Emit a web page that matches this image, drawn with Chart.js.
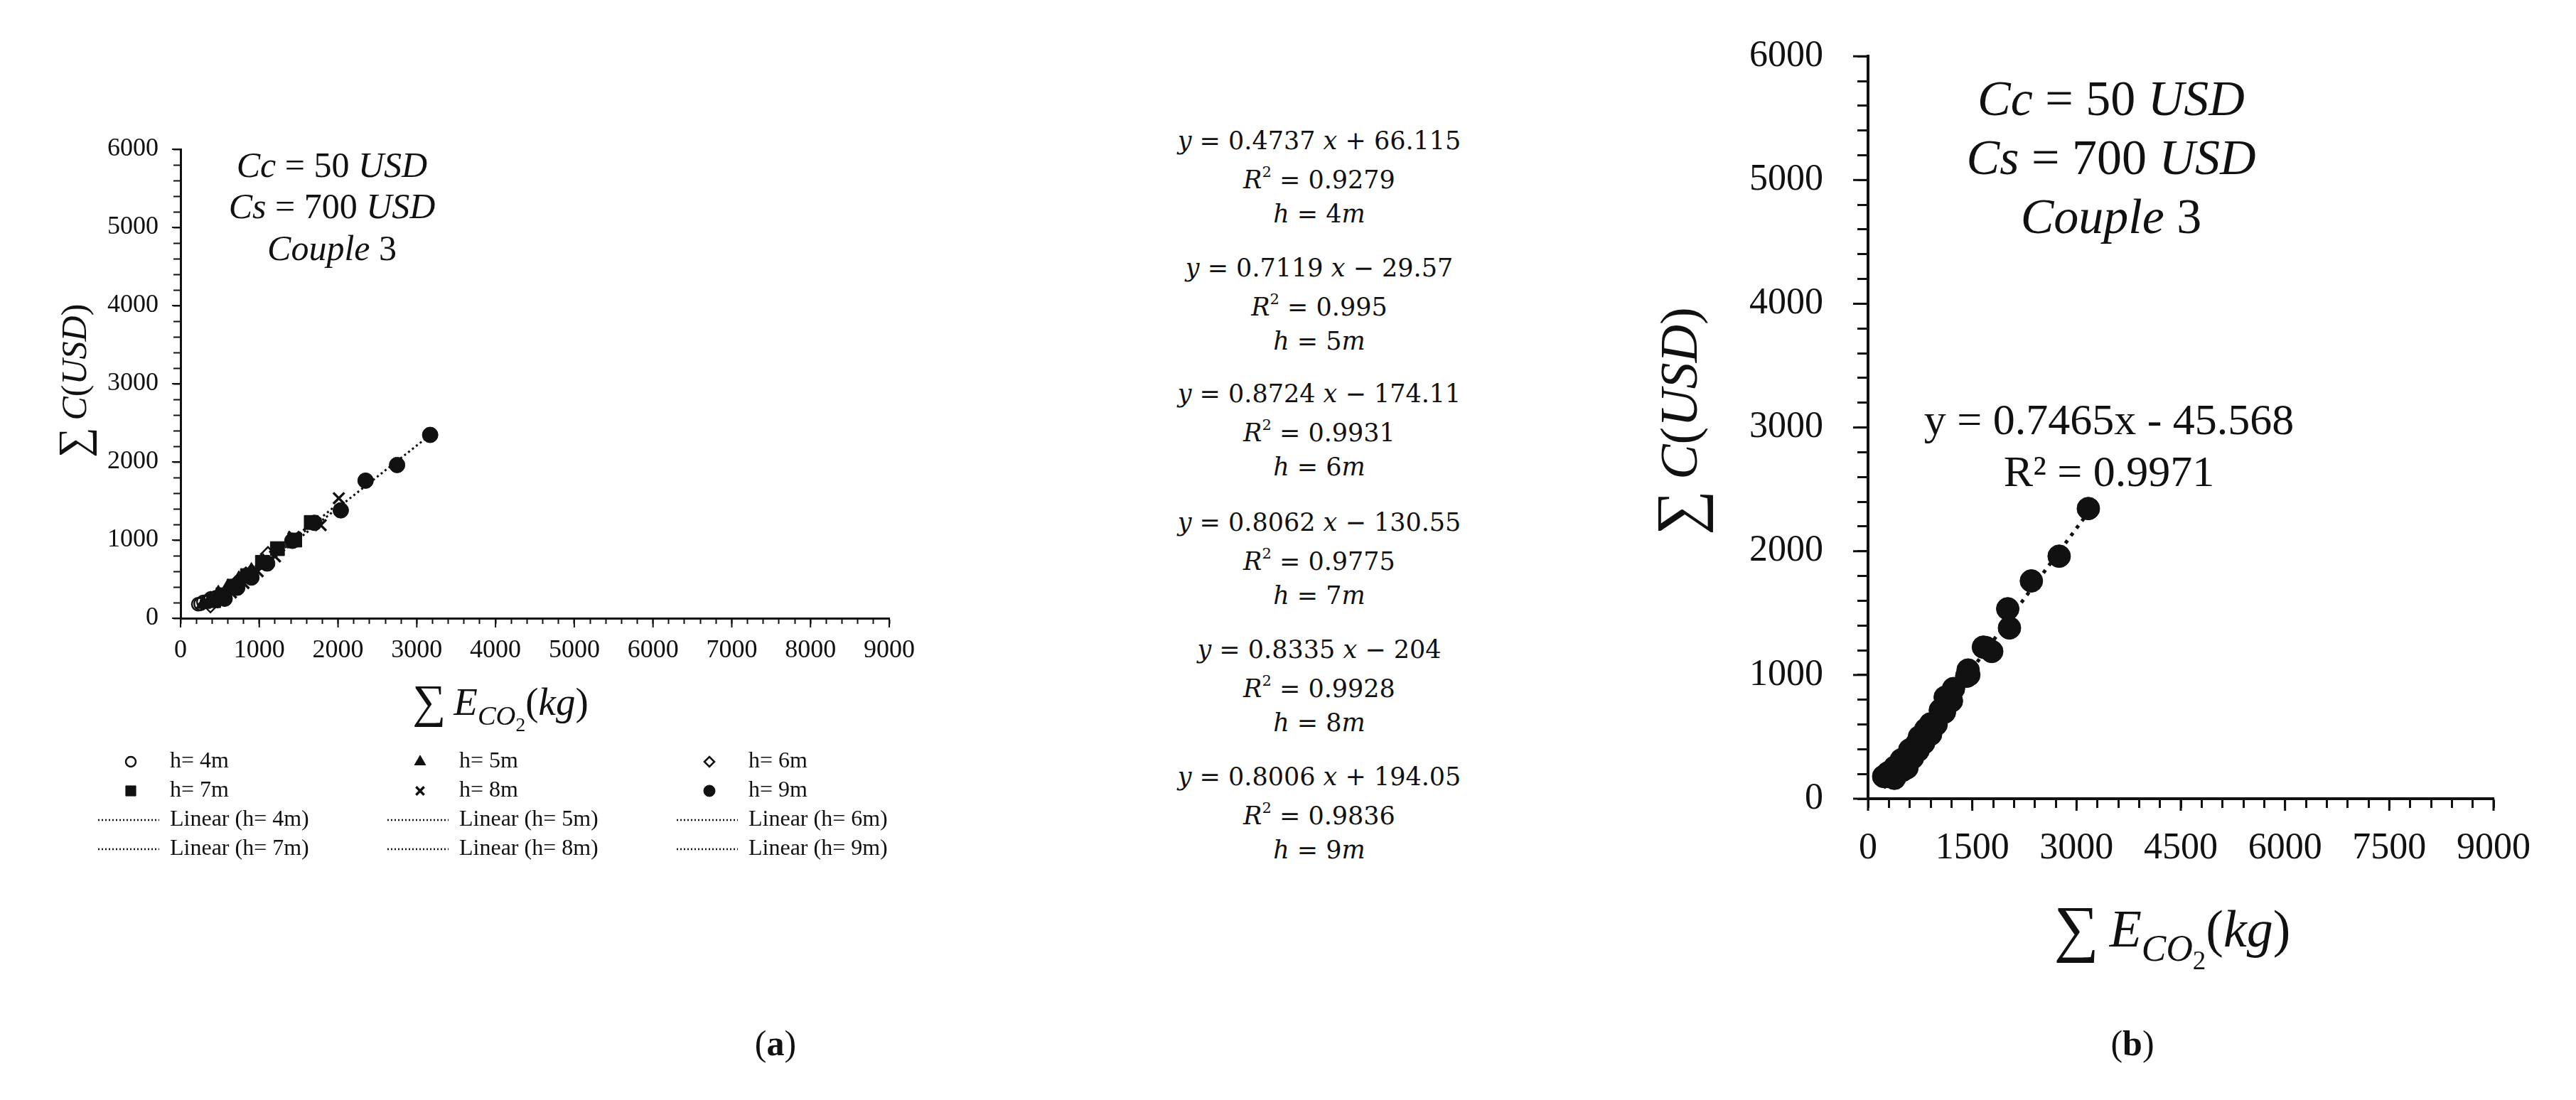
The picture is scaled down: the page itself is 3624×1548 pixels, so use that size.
<!DOCTYPE html>
<html>
<head>
<meta charset="utf-8">
<title>Cost vs CO2 emissions, couple 3</title>
<script src="https://cdn.jsdelivr.net/npm/chart.js@4.4.1/dist/chart.umd.min.js"></script>
<style>
  html, body { margin: 0; padding: 0; background: #fff; }
  body { position: relative; width: 3624px; height: 1548px; overflow: hidden; color: #111; font-family: 'Liberation Serif', serif; }
  canvas { position: absolute; }
  #chartA { left: 0; top: 0; }
  #chartB { left: 2300px; top: 0; }
  #eqs { position: absolute; left: 1556px; top: 0; width: 600px; font-family: 'DejaVu Serif', serif; font-size: 35px; text-align: center; }
  #eqs div { position: absolute; left: 0; width: 600px; line-height: 50px; white-space: nowrap; }
  #eqs sup { font-size: 0.6em; position: relative; top: -0.15em; vertical-align: super; line-height: 0; }
  .cap { position: absolute; top: 1438px; width: 200px; margin-left: -100px; text-align: center; font-size: 50px; line-height: 60px; }
</style>
</head>
<body>
<canvas id="chartA" width="1500" height="1300"></canvas>
<div id="eqs"></div>
<canvas id="chartB" width="1324" height="1400"></canvas>
<div class="cap" style="left:1091px">(<b>a</b>)</div>
<div class="cap" style="left:3000px">(<b>b</b>)</div>
<script>
// data: sum of CO2 emissions (kg) vs sum of cost (USD), per height
const heights = ['4', '5', '6', '7', '8', '9'];
const x4 = [225, 255, 290, 335, 385, 450];
const y4 = [180, 185, 210, 215, 255, 268];
const x5 = [290, 380, 480, 600, 740, 900, 1050];
const y5 = [180, 238, 315, 395, 500, 605, 720];
const x6 = [380, 470, 580, 700, 830, 900, 1110];
const y6 = [165, 230, 330, 445, 560, 590, 820];
const x7 = [420, 540, 680, 850, 1040, 1230, 1450, 1660];
const y7 = [225, 300, 410, 545, 715, 890, 1000, 1225];
const x8 = [500, 640, 800, 980, 1200, 1440, 1780, 2010];
const y8 = [230, 330, 450, 600, 790, 1040, 1190, 1535];
const x9 = [560, 720, 900, 1100, 1420, 1700, 2035, 2350, 2750, 3170];
const y9 = [250, 390, 520, 700, 990, 1220, 1380, 1760, 1960, 2345];

// trendline equations as printed next to panel (a)
const eqSlope = ['0.4737', '0.7119', '0.8724', '0.8062', '0.8335', '0.8006'];
const eqIntercept = ['+ 66.115', '\u2212 29.57', '\u2212 174.11', '\u2212 130.55', '\u2212 204', '+ 194.05'];
const eqR2 = ['0.9279', '0.995', '0.9931', '0.9775', '0.9928', '0.9836'];
const eqB = ['y = 0.7465x - 45.568', 'R\u00b2 = 0.9971'];

const xTicksA = { max: 9000, minor: 200, major: 1000 };
const yTicksA = { max: 6000, minor: 200, major: 1000 };
const xTicksB = { max: 9000, minor: 300, major: 1500 };
const yTicksB = { max: 6000, minor: 200, major: 1000 };

const serif = "'Liberation Serif', 'Times New Roman', serif";
const ink = '#111';

const xs = [x4, x5, x6, x7, x8, x9];
const ys = [y4, y5, y6, y7, y8, y9];

// marker look per height (excel-ish)
const markStyle = [
  { pointStyle: 'circle', fill: 'rgba(0,0,0,0)', r: 9, bw: 2.5, lr: 7 },
  { pointStyle: 'triangle', fill: ink, r: 12, bw: 1, lr: 9 },
  { pointStyle: 'rectRot', fill: 'rgba(0,0,0,0)', r: 10, bw: 2.5, lr: 7 },
  { pointStyle: 'rect', fill: ink, r: 14, bw: 1, lr: 10 },
  { pointStyle: 'crossRot', fill: ink, r: 11, bw: 3.5, lr: 8 },
  { pointStyle: 'circle', fill: ink, r: 11, bw: 1, lr: 8 }
];

function toPoints(xa, ya) {
  return xa.map((x, i) => ({ x: x, y: ya[i] }));
}

// least squares line, like the excel "Linear" trendline
function trendPoints(xa, ya) {
  const n = xa.length;
  const mx = xa.reduce((s, v) => s + v, 0) / n;
  const my = ya.reduce((s, v) => s + v, 0) / n;
  let sxy = 0, sxx = 0;
  xa.forEach((x, i) => { sxy += (x - mx) * (ya[i] - my); sxx += (x - mx) * (x - mx); });
  const k = sxy / sxx, b = my - k * mx;
  const lo = Math.min(...xa), hi = Math.max(...xa);
  return [{ x: lo, y: k * lo + b }, { x: hi, y: k * hi + b }];
}

function axisOpts(t, o) {
  return {
    type: 'linear', min: 0, max: t.max,
    border: { display: true, color: ink, width: o.axisWidth },
    grid: { drawOnChartArea: false, drawTicks: true, tickLength: o.tickLen, tickWidth: o.tickWidth, tickColor: ink },
    ticks: {
      stepSize: t.minor, maxTicksLimit: 200, autoSkip: false, maxRotation: 0, minRotation: 0,
      padding: o.pad, color: ink, font: { family: serif, size: o.font },
      callback: v => (v % t.major === 0 ? String(v) : '')
    },
    afterFit: s => { if (s.isHorizontal()) s.height = o.size; else s.width = o.size; }
  };
}

function fontStr(size, italic) {
  return (italic ? 'italic ' : '') + size + 'px ' + serif;
}

// runs: [text, italic, scale, shift] drawn centred on cx, cy
function drawRuns(ctx, runs, cx, cy, size) {
  ctx.save();
  ctx.textAlign = 'left';
  ctx.textBaseline = 'alphabetic';
  ctx.fillStyle = ink;
  let total = 0;
  const w = runs.map(r => {
    ctx.font = fontStr(size * (r[2] || 1), r[1]);
    const m = ctx.measureText(r[0]).width;
    total += m;
    return m;
  });
  let x = cx - total / 2;
  runs.forEach((r, i) => {
    ctx.font = fontStr(size * (r[2] || 1), r[1]);
    ctx.fillText(r[0], x, cy + size * 0.33 + (r[3] || 0) * size);
    x += w[i];
  });
  ctx.restore();
}

function majorTicks(chart, id, step, len, width) {
  const s = chart.scales[id], a = chart.chartArea, ctx = chart.ctx;
  ctx.save();
  ctx.strokeStyle = ink;
  ctx.lineWidth = width;
  for (let v = s.min; v <= s.max; v += step) {
    const p = s.getPixelForValue(v);
    ctx.beginPath();
    if (s.isHorizontal()) { ctx.moveTo(p, a.bottom); ctx.lineTo(p, a.bottom + len); }
    else { ctx.moveTo(a.left, p); ctx.lineTo(a.left - len, p); }
    ctx.stroke();
  }
  ctx.restore();
}

const xTitle = [['\u2211', false, 1.2, 0.05], ['\u2009', false], ['E', true], ['CO', true, 0.7, 0.26], ['2', false, 0.5, 0.42], ['(', false], ['kg', true], [')', false]];
const yTitle = [['\u2211', false, 1.2, 0.05], ['\u2009', false], ['C', true], ['(', false], ['USD', true], [')', false]];
const notes = [
  [['Cc', true], [' = ', false], ['50', false], [' ', false], ['USD', true]],
  [['Cs', true], [' = ', false], ['700', false], [' ', false], ['USD', true]],
  [['Couple', true], [' 3', false]]
];

function rotated(ctx, runs, cx, cy, size) {
  ctx.save();
  ctx.translate(cx, cy);
  ctx.rotate(-Math.PI / 2);
  drawRuns(ctx, runs, 0, 0, size);
  ctx.restore();
}

function drawLegendA(chart) {
  const ctx = chart.ctx;
  chart.data.datasets.forEach((ds, i) => {
    const mx = 184 + (i % 3) * 407, y = 1072 + Math.floor(i / 3) * 41;
    ctx.save();
    if (ds.showLine) {
      ctx.strokeStyle = ink;
      ctx.lineWidth = 2.5;
      ctx.setLineDash([2, 3]);
      ctx.beginPath();
      ctx.moveTo(mx - 46, y);
      ctx.lineTo(mx + 40, y);
      ctx.stroke();
    } else {
      const st = markStyle[i];
      ctx.fillStyle = st.fill;
      ctx.strokeStyle = ink;
      ctx.lineWidth = st.bw;
      if (Chart.helpers && Chart.helpers.drawPoint) {
        Chart.helpers.drawPoint(ctx, { pointStyle: st.pointStyle, radius: st.lr, rotation: 0, borderWidth: st.bw }, mx, y);
      } else {
        ctx.beginPath(); ctx.arc(mx, y, st.lr, 0, Math.PI * 2); ctx.fill(); ctx.stroke();
      }
    }
    ctx.fillStyle = ink;
    ctx.font = '32px ' + serif;
    ctx.textBaseline = 'middle';
    ctx.textAlign = 'left';
    ctx.fillText(ds.label, mx + 55, y);
    ctx.restore();
  });
}

const extrasA = {
  id: 'extrasA',
  afterDraw(chart) {
    const ctx = chart.ctx, a = chart.chartArea;
    majorTicks(chart, 'x', xTicksA.major, 13, 2);
    majorTicks(chart, 'y', yTicksA.major, 12, 2);
    drawRuns(ctx, xTitle, a.left + 450, a.bottom + 118, 55);
    rotated(ctx, yTitle, 104, (a.top + a.bottom) / 2 - 4, 50);
    notes.forEach((r, i) => drawRuns(ctx, r, a.left + 213, a.top + 22 + i * 58.5, 50));
    drawLegendA(chart);
  }
};

const extrasB = {
  id: 'extrasB',
  afterDraw(chart) {
    const ctx = chart.ctx, a = chart.chartArea;
    majorTicks(chart, 'x', xTicksB.major, 17, 3);
    majorTicks(chart, 'y', yTicksB.major, 21, 3);
    drawRuns(ctx, xTitle, a.left + 428, a.bottom + 184, 74);
    rotated(ctx, yTitle, 63, (a.top + a.bottom) / 2 - 9, 74);
    notes.forEach((r, i) => drawRuns(ctx, r, a.left + 342, a.top + 60 + i * 83, 70));
    eqB.forEach((t, i) => drawRuns(ctx, [[t, false]], a.left + 339, a.top + 511 + i * 73, 62));
  }
};

// panel (a): one scatter set and one dotted trendline per height
const setsA = heights.map((h, i) => ({
  label: 'h= ' + h + 'm',
  data: toPoints(xs[i], ys[i]),
  pointStyle: markStyle[i].pointStyle,
  pointRadius: markStyle[i].r,
  pointBackgroundColor: markStyle[i].fill,
  pointBorderColor: ink,
  pointBorderWidth: markStyle[i].bw,
  order: 5 - i
}));
const trendsA = heights.map((h, i) => ({
  label: 'Linear (h= ' + h + 'm)',
  data: trendPoints(xs[i], ys[i]),
  showLine: true,
  pointRadius: 0,
  borderColor: ink,
  borderWidth: 3,
  borderDash: [3, 4],
  order: 20
}));

new Chart(document.getElementById('chartA'), {
  type: 'scatter',
  data: { datasets: setsA.concat(trendsA) },
  options: {
    responsive: false,
    animation: false,
    events: [],
    layout: { padding: { left: 0, top: 210, right: 249, bottom: 300 } },
    plugins: { legend: { display: false }, tooltip: { enabled: false } },
    scales: {
      x: axisOpts(xTicksA, { axisWidth: 3, tickLen: 8, tickWidth: 2, pad: 16, font: 36, size: 130 }),
      y: axisOpts(yTicksA, { axisWidth: 3, tickLen: 10, tickWidth: 2, pad: 21, font: 36, size: 254 })
    }
  },
  plugins: [extrasA]
});

// panel (b): all heights pooled
const allX = [].concat(...xs);
const allY = [].concat(...ys);

new Chart(document.getElementById('chartB'), {
  type: 'scatter',
  data: {
    datasets: [
      {
        label: 'All heights',
        data: toPoints(allX, allY),
        pointStyle: 'circle',
        pointRadius: 16,
        pointBackgroundColor: ink,
        pointBorderColor: ink,
        pointBorderWidth: 1,
        order: 0
      },
      {
        label: 'Linear',
        data: trendPoints(allX, allY),
        showLine: true,
        pointRadius: 0,
        borderColor: ink,
        borderWidth: 5,
        borderDash: [5, 8],
        order: 5
      }
    ]
  },
  options: {
    responsive: false,
    animation: false,
    events: [],
    layout: { padding: { left: 0, top: 72, right: 116, bottom: 126 } },
    plugins: { legend: { display: false }, tooltip: { enabled: false } },
    scales: {
      x: axisOpts(xTicksB, { axisWidth: 4, tickLen: 13, tickWidth: 3, pad: 26, font: 52, size: 150 }),
      y: axisOpts(yTicksB, { axisWidth: 4, tickLen: 15, tickWidth: 3, pad: 48, font: 52, size: 328 })
    }
  },
  plugins: [extrasB]
});

// equation column between the panels
const eqTop = [198, 377, 554, 735, 914, 1093];
const eqBox = document.getElementById('eqs');
heights.forEach((h, i) => {
  const lines = [
    '<i>y</i> = ' + eqSlope[i] + ' <i>x</i> ' + eqIntercept[i],
    '<i>R</i><sup>2</sup> = ' + eqR2[i],
    '<i>h</i> = ' + h + '<i>m</i>'
  ];
  const offs = [0, 55, 103];
  lines.forEach((html, j) => {
    const d = document.createElement('div');
    d.style.top = (eqTop[i] + offs[j] - 25) + 'px';
    d.innerHTML = html;
    eqBox.appendChild(d);
  });
});
</script>
</body>
</html>
